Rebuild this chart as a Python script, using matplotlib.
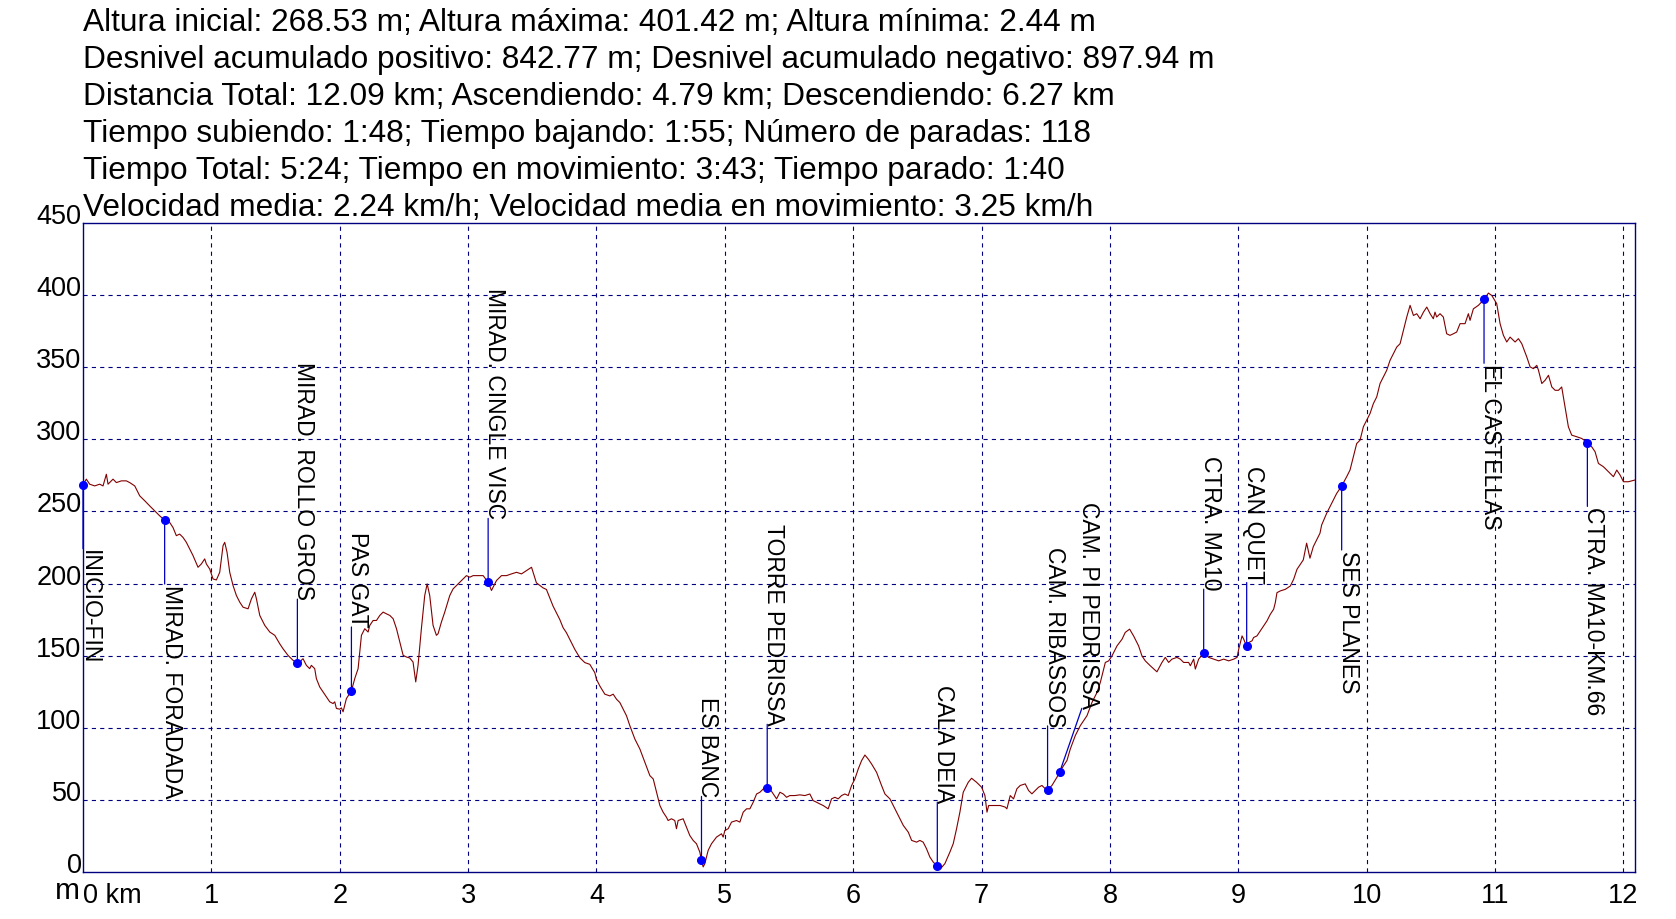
import matplotlib
matplotlib.use("Agg")
import matplotlib.pyplot as plt
from matplotlib import font_manager

# --- header statistics ---
STATS = [
    "Altura inicial: 268.53 m; Altura máxima: 401.42 m; Altura mínima: 2.44 m",
    "Desnivel acumulado positivo: 842.77 m; Desnivel acumulado negativo: 897.94 m",
    "Distancia Total: 12.09 km; Ascendiendo: 4.79 km; Descendiendo: 6.27 km",
    "Tiempo subiendo: 1:48; Tiempo bajando: 1:55; Número de paradas: 118",
    "Tiempo Total: 5:24; Tiempo en movimiento: 3:43; Tiempo parado: 1:40",
    "Velocidad media: 2.24 km/h; Velocidad media en movimiento: 3.25 km/h",
]

# --- elevation profile (km, m) ---
dist_km = [
    0.000, 0.026, 0.052, 0.091, 0.130, 0.156, 0.182, 0.195, 0.234, 0.260,
    0.299, 0.338, 0.364, 0.403, 0.442, 0.481, 0.519, 0.558, 0.597, 0.636,
    0.675, 0.701, 0.727, 0.753, 0.779, 0.805, 0.831, 0.857, 0.896, 0.922,
    0.948, 0.961, 0.987, 1.013, 1.039, 1.065, 1.091, 1.104, 1.122, 1.143,
    1.169, 1.195, 1.221, 1.247, 1.286, 1.312, 1.338, 1.351, 1.377, 1.416,
    1.455, 1.494, 1.532, 1.558, 1.597, 1.636, 1.670, 1.688, 1.701, 1.714,
    1.740, 1.766, 1.779, 1.805, 1.818, 1.844, 1.870, 1.896, 1.922, 1.948,
    1.961, 1.974, 2.000, 2.013, 2.026, 2.052, 2.091, 2.117, 2.143, 2.169,
    2.195, 2.221, 2.234, 2.260, 2.286, 2.312, 2.338, 2.364, 2.390, 2.416,
    2.442, 2.468, 2.494, 2.519, 2.545, 2.571, 2.592, 2.610, 2.636, 2.662,
    2.681, 2.701, 2.727, 2.753, 2.766, 2.792, 2.818, 2.857, 2.883, 2.922,
    2.961, 2.987, 3.013, 3.039, 3.078, 3.117, 3.156, 3.182, 3.221, 3.260,
    3.299, 3.338, 3.377, 3.416, 3.455, 3.494, 3.532, 3.584, 3.610, 3.662,
    3.714, 3.740, 3.766, 3.792, 3.831, 3.870, 3.909, 3.948, 3.987, 4.000,
    4.026, 4.065, 4.104, 4.130, 4.156, 4.182, 4.208, 4.234, 4.260, 4.299,
    4.338, 4.377, 4.416, 4.442, 4.455, 4.481, 4.494, 4.519, 4.545, 4.558,
    4.584, 4.610, 4.623, 4.636, 4.675, 4.701, 4.727, 4.753, 4.779, 4.805,
    4.818, 4.831, 4.844, 4.870, 4.896, 4.935, 4.974, 4.987, 5.000, 5.026,
    5.052, 5.091, 5.117, 5.143, 5.169, 5.195, 5.221, 5.247, 5.273, 5.299,
    5.330, 5.351, 5.377, 5.403, 5.429, 5.455, 5.481, 5.506, 5.545, 5.584,
    5.623, 5.662, 5.688, 5.714, 5.740, 5.766, 5.805, 5.831, 5.857, 5.883,
    5.909, 5.935, 5.961, 5.987, 6.013, 6.039, 6.065, 6.091, 6.117, 6.143,
    6.182, 6.221, 6.247, 6.286, 6.312, 6.338, 6.364, 6.390, 6.429, 6.455,
    6.494, 6.519, 6.545, 6.571, 6.597, 6.623, 6.655, 6.681, 6.714, 6.753,
    6.779, 6.805, 6.831, 6.857, 6.896, 6.922, 6.961, 7.000, 7.026, 7.042,
    7.055, 7.094, 7.145, 7.184, 7.197, 7.223, 7.249, 7.275, 7.301, 7.340,
    7.366, 7.392, 7.418, 7.444, 7.470, 7.496, 7.514, 7.548, 7.587, 7.608,
    7.639, 7.665, 7.691, 7.730, 7.769, 7.821, 7.860, 7.899, 7.925, 7.964,
    7.990, 8.016, 8.055, 8.094, 8.119, 8.153, 8.184, 8.223, 8.249, 8.275,
    8.314, 8.366, 8.405, 8.431, 8.457, 8.483, 8.522, 8.548, 8.574, 8.613,
    8.626, 8.652, 8.665, 8.691, 8.730, 8.769, 8.808, 8.847, 8.886, 8.925,
    8.964, 8.990, 9.003, 9.029, 9.042, 9.065, 9.081, 9.107, 9.119, 9.145,
    9.171, 9.197, 9.223, 9.249, 9.275, 9.288, 9.301, 9.327, 9.366, 9.405,
    9.431, 9.457, 9.483, 9.506, 9.532, 9.558, 9.584, 9.610, 9.636, 9.649,
    9.688, 9.727, 9.766, 9.805, 9.844, 9.870, 9.896, 9.922, 9.948, 9.974,
    10.000, 10.026, 10.052, 10.078, 10.104, 10.130, 10.156, 10.182, 10.208, 10.234,
    10.260, 10.286, 10.312, 10.338, 10.364, 10.390, 10.416, 10.442, 10.468, 10.494,
    10.519, 10.532, 10.545, 10.571, 10.597, 10.623, 10.649, 10.675, 10.701, 10.727,
    10.766, 10.792, 10.805, 10.831, 10.870, 10.914, 10.948, 10.974, 11.013, 11.039,
    11.065, 11.091, 11.117, 11.156, 11.182, 11.208, 11.247, 11.273, 11.299, 11.325,
    11.338, 11.364, 11.390, 11.416, 11.442, 11.468, 11.494, 11.519, 11.545, 11.571,
    11.597, 11.636, 11.675, 11.719, 11.753, 11.779, 11.805, 11.844, 11.883, 11.922,
    11.948, 11.974, 12.000, 12.039, 12.090,
]
elev_m = [
    268.5, 272.4, 268.9, 267.7, 268.9, 267.7, 275.8, 268.9, 272.4, 270.0,
    271.2, 271.2, 270.0, 267.7, 260.8, 257.4, 253.9, 250.5, 247.0, 244.0,
    242.4, 238.9, 233.2, 234.3, 232.0, 228.6, 224.0, 219.4, 211.3, 213.6,
    217.1, 213.6, 210.1, 203.2, 202.5, 207.8, 226.3, 228.6, 221.7, 207.8,
    198.6, 191.7, 187.1, 183.6, 182.5, 189.4, 194.0, 189.4, 177.9, 171.0,
    166.4, 164.1, 158.3, 154.8, 150.2, 146.8, 144.9, 143.3, 146.8, 147.9,
    143.3, 141.0, 143.3, 141.0, 134.1, 128.3, 124.9, 121.4, 118.0, 116.8,
    118.0, 113.4, 112.9, 113.8, 111.1, 120.3, 125.6, 134.1, 141.0, 164.1,
    168.7, 166.4, 171.0, 174.4, 174.4, 177.9, 180.2, 179.0, 177.9, 175.6,
    168.7, 159.4, 150.2, 149.1, 148.4, 145.6, 131.8, 143.3, 168.7, 191.7,
    199.8, 191.7, 171.0, 164.1, 165.2, 173.3, 180.2, 191.7, 196.3, 199.8,
    203.2, 205.5, 204.4, 205.5, 205.5, 205.5, 200.9, 195.2, 202.1, 205.5,
    205.5, 206.7, 207.8, 206.7, 209.0, 211.3, 200.5, 197.0, 195.9, 184.3,
    175.1, 169.4, 165.9, 161.3, 154.4, 148.6, 145.2, 144.0, 138.2, 133.6,
    129.0, 123.3, 122.1, 123.3, 119.8, 117.5, 112.9, 108.3, 101.4, 92.2,
    85.3, 76.0, 66.8, 64.5, 59.9, 50.7, 46.1, 41.5, 38.0, 35.7,
    36.9, 35.7, 30.0, 35.7, 36.9, 31.1, 25.3, 21.9, 19.6, 13.8,
    8.1, 3.5, 5.8, 15.0, 19.6, 24.2, 26.5, 24.2, 28.8, 30.0,
    34.6, 35.7, 34.6, 41.5, 43.8, 43.8, 48.4, 54.1, 55.3, 57.6,
    58.1, 57.6, 54.1, 50.7, 55.3, 54.1, 51.8, 53.0, 53.0, 53.5,
    53.0, 54.1, 49.5, 48.4, 47.2, 46.1, 43.8, 50.7, 51.8, 50.7,
    53.0, 54.1, 53.0, 59.9, 64.5, 71.4, 77.2, 81.1, 78.3, 74.9,
    69.1, 59.9, 54.1, 50.7, 46.1, 41.5, 36.9, 32.3, 27.6, 21.9,
    20.7, 21.9, 20.7, 16.1, 10.4, 6.9, 4.1, 2.4, 5.8, 13.8,
    19.6, 30.0, 41.5, 55.3, 62.2, 65.0, 62.2, 58.8, 53.0, 41.5,
    46.1, 46.1, 46.1, 45.0, 43.8, 53.0, 50.7, 57.7, 60.0, 61.1,
    56.5, 54.2, 56.5, 58.8, 60.0, 57.7, 57.0, 60.0, 65.7, 69.2,
    73.8, 77.3, 85.3, 94.6, 101.5, 108.4, 117.6, 124.5, 131.5, 145.3,
    146.4, 149.9, 156.8, 161.4, 166.1, 168.4, 163.7, 156.8, 149.9, 146.4,
    143.0, 138.8, 145.3, 148.8, 145.3, 147.6, 148.8, 147.6, 145.3, 145.3,
    143.0, 147.6, 140.7, 147.6, 151.8, 148.8, 147.6, 146.4, 147.6, 146.4,
    147.6, 148.8, 154.5, 163.7, 161.4, 156.4, 159.1, 160.3, 162.6, 163.7,
    167.2, 170.7, 174.1, 178.7, 182.2, 186.8, 193.7, 194.9, 196.0, 198.3,
    203.0, 209.9, 213.3, 216.4, 228.0, 217.6, 225.6, 230.3, 234.9, 240.6,
    248.7, 255.6, 262.5, 267.6, 274.1, 278.7, 287.9, 297.1, 299.4, 308.7,
    313.3, 317.9, 324.8, 329.4, 338.7, 343.3, 347.9, 354.8, 359.4, 364.0,
    366.3, 375.6, 384.8, 392.9, 385.9, 387.1, 383.6, 388.2, 391.7, 387.1,
    383.6, 388.2, 384.8, 387.1, 384.8, 373.2, 372.1, 373.2, 374.4, 380.2,
    380.2, 387.1, 382.5, 390.5, 392.9, 397.0, 401.4, 399.8, 394.0, 380.2,
    372.1, 367.5, 370.9, 367.5, 369.8, 366.3, 357.1, 350.2, 349.0, 351.3,
    347.9, 338.7, 341.0, 344.4, 336.3, 334.0, 334.0, 336.3, 322.5, 308.7,
    302.9, 301.8, 300.6, 297.8, 294.8, 291.4, 283.3, 281.0, 277.5, 274.1,
    278.7, 275.2, 270.6, 270.6, 271.8,
]

# --- waypoints ---
wp_names = [
    "INICIO-FIN", "MIRAD. FORADADA", "MIRAD. ROLLO GROS", "PAS GAT",
    "MIRAD. CINGLE VISC", "ES BANC", "TORRE PEDRISSA", "CALA DEIA",
    "CAM. RIBASSOS", "CAM. PI PEDRISSA", "CTRA. MA10", "CAN QUET",
    "SES PLANES", "EL CASTELLAS", "CTRA. MA10-KM.66",
]
wp_km = [0.000, 0.636, 1.670, 2.091, 3.156, 4.818, 5.330, 6.655,
         7.514, 7.608, 8.730, 9.065, 9.805, 10.914, 11.719]
wp_m = [268.5, 244.0, 144.9, 125.6, 200.9, 8.1, 58.1, 4.1,
        57.0, 69.2, 151.8, 156.4, 267.6, 397.0, 297.8]
wp_above = [False, False, True, True, True, True, True, True,
            True, True, True, True, False, False, False]
wp_shift = [0, 0, 0, 0, 0, 0, 0, 0, 0, 16, 0, 0, 0, 0, 0]

x_ticks = list(range(0, 13))
y_ticks = list(range(0, 451, 50))

NAVY = "#000080"
plt.rcParams["font.family"] = ["Liberation Sans", "DejaVu Sans"]
plt.rcParams["lines.scale_dashes"] = False

# waypoint labels look condensed; use the narrow cut if it is installed
names_available = {f.name for f in font_manager.fontManager.ttflist}
if "Liberation Sans Narrow" in names_available:
    LABEL_FONT, LABEL_SIZE = ["Liberation Sans Narrow"], 20
else:
    LABEL_FONT, LABEL_SIZE = ["Liberation Sans"], 16.5

W, H = 1676, 920
fig = plt.figure(figsize=(W / 100, H / 100), dpi=100)
ax = fig.add_axes([83 / W, 1 - 873 / H, (1635 - 83) / W, (873 - 224) / H])

ax.plot(dist_km, elev_m, color="#800000", lw=0.8, zorder=3)

ax.set_xlim(0, 12.09)
ax.set_ylim(0, 450)
for s in ax.spines.values():
    s.set_color(NAVY)
    s.set_linewidth(1.0)

for xv in x_ticks[1:]:
    ax.axvline(xv, color=NAVY, lw=0.8, ls=(0, (3, 3)), zorder=1)
for yv in y_ticks[1:-1]:
    ax.axhline(yv, color=NAVY, lw=0.8, ls=(0, (3, 3)), zorder=1)

ax.set_xticks(x_ticks)
ax.set_xticklabels(["0 km"] + [str(v) for v in x_ticks[1:]])
ax.set_yticks(y_ticks)
ax.tick_params(length=0, labelsize=19.5, colors="black")
ax.tick_params(axis="x", pad=7)
ax.tick_params(axis="y", pad=1)
for lbl in ax.get_yticklabels():
    lbl.set_verticalalignment("baseline")
ax.get_xticklabels()[0].set_horizontalalignment("left")

# unit label "m" left of the x origin
fig.text(80 / W, 1 - 899 / H, "m", ha="right", va="baseline", fontsize=21.5)

# waypoints
for name, km, m, above, dx in zip(wp_names, wp_km, wp_m, wp_above, wp_shift):
    dy = 46 if above else -46
    ax.annotate("", xy=(km, m), xytext=(dx, dy), textcoords="offset points",
                arrowprops=dict(arrowstyle="-", color="#0000C0", lw=0.9,
                                shrinkA=0, shrinkB=0), zorder=4)
    ax.annotate(name, xy=(km, m), xytext=(dx, dy), textcoords="offset points",
                rotation=270, rotation_mode="anchor",
                ha="right" if above else "left", va="baseline",
                fontsize=LABEL_SIZE, family=LABEL_FONT, color="black", zorder=5)
    ax.plot(km, m, "o", color="#0000FF", ms=5.5, zorder=6, clip_on=False)

# header statistics
for i, line in enumerate(STATS):
    fig.text(83 / W, 1 - (31 + 36.9 * i) / H, line, ha="left", va="baseline",
             fontsize=22.8, color="black")

fig.savefig("out.png", dpi=100, facecolor="white")
